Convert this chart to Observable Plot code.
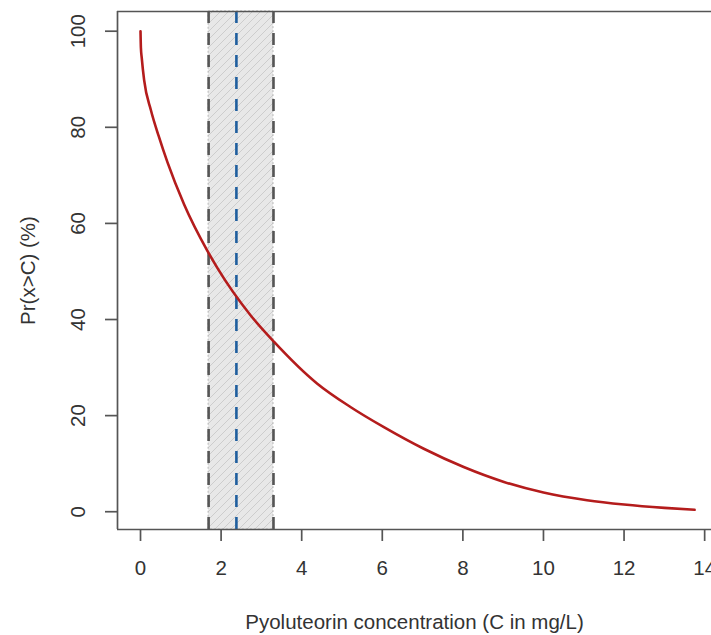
<!DOCTYPE html>
<html>
<head>
<meta charset="utf-8">
<script src="https://cdn.jsdelivr.net/npm/d3@7"></script>
<script src="https://cdn.jsdelivr.net/npm/@observablehq/plot@0.6"></script>
<style>
  html, body { margin: 0; padding: 0; background: #fff; }
  #chart svg { display: block; }
</style>
</head>
<body>
<div id="chart"></div>
<script>
// Survival curve: Pr(x > C) in %
const concentration = [0, 0.01, 0.03, 0.09, 0.26, 0.45, 0.67, 1.08, 1.66, 1.91, 2.73, 3.31, 4.38, 5.21, 6.04, 7.03, 8.02, 9.02, 10.0, 11.08, 12.0, 13.0, 13.75];
const probability   = [100, 96.5, 94.5, 89.8, 83.5, 78.2, 72.7, 64.0, 54.3, 50.7, 40.9, 35.4, 26.7, 21.8, 17.6, 13.1, 9.3, 6.2, 4.0, 2.4, 1.5, 0.8, 0.4];

// Interval band and central estimate
const bandLow = 1.69;
const bandHigh = 3.30;
const centralValue = 2.38;

const xTicks = [0, 2, 4, 6, 8, 10, 12, 14];
const yTicks = [0, 20, 40, 60, 80, 100];

const xTitle = "Pyoluteorin concentration (C in mg/L)";
const yTitle = "Pr(x>C) (%)";

const curve = concentration.map((c, i) => ({c, p: probability[i]}));
const xDomain = [-0.571, 14.17];
const yDomain = [-3.7, 104.1];
const font = "'Liberation Sans', Arial, sans-serif";
const fs = 20.5;

const svg = Plot.plot({
  width: 711,
  height: 635,
  marginLeft: 117,
  marginRight: 0,
  marginTop: 11,
  marginBottom: 106,
  style: {fontFamily: font, color: "#333", background: "#fff", overflow: "visible"},
  x: {domain: xDomain, axis: null},
  y: {domain: yDomain, axis: null},
  marks: [
    // shaded interval
    Plot.rect([{lo: bandLow, hi: bandHigh}], {
      x1: "lo", x2: "hi", y1: yDomain[0], y2: yDomain[1],
      fill: "url(#hatch)", stroke: "#b8b8b8", strokeWidth: 1, strokeDasharray: "2,2"
    }),
    Plot.ruleX([bandLow, bandHigh], {stroke: "#555", strokeWidth: 2.6, strokeDasharray: "12,10", y1: yDomain[0], y2: yDomain[1]}),
    Plot.ruleX([centralValue], {stroke: "#1f5e9e", strokeWidth: 2.6, strokeDasharray: "12,10", y1: yDomain[0], y2: yDomain[1]}),
    // curve
    Plot.line(curve, {x: "c", y: "p", stroke: "#b41c1c", strokeWidth: 2.6, curve: "monotone-x"}),
    // box (left, top, bottom; right edge is off-canvas)
    Plot.ruleX([xDomain[0]], {stroke: "#555", strokeWidth: 1.7}),
    Plot.ruleY([yDomain[0], yDomain[1]], {stroke: "#555", strokeWidth: 1.7}),
    // x axis
    Plot.axisX({ticks: xTicks, tickSize: 12, tickPadding: 19, fontSize: fs, stroke: "#555", fill: "#333", strokeWidth: 1.7, label: null, tickFormat: d => String(d)}),
    // y axis ticks
    Plot.axisY({ticks: yTicks, tickSize: 12, tickFormat: () => "", stroke: "#555", strokeWidth: 1.7, label: null}),
    // y tick labels (rotated like base R)
    Plot.text(yTicks, {x: xDomain[0], y: d => d, text: d => String(d), rotate: -90, dx: -39,
      textAnchor: "middle", lineAnchor: "middle", fontSize: fs, fill: "#333"}),
    // axis titles
    Plot.text([xTitle], {frameAnchor: "bottom", dy: 93, lineAnchor: "middle", fontSize: fs, fill: "#333"}),
    Plot.text([yTitle], {frameAnchor: "left", dx: -89, rotate: -90, textAnchor: "middle", lineAnchor: "middle", fontSize: fs, fill: "#333"})
  ]
});

// hatch pattern definition for the band
const defs = d3.select(svg).insert("defs", ":first-child");
const pat = defs.append("pattern")
  .attr("id", "hatch")
  .attr("patternUnits", "userSpaceOnUse")
  .attr("width", 8).attr("height", 8);
pat.append("rect").attr("width", 8).attr("height", 8).attr("fill", "#e8e8e8");
pat.append("path")
  .attr("d", "M-2,2 L2,-2 M0,8 L8,0 M6,10 L10,6")
  .attr("stroke", "#cdcdcd").attr("stroke-width", 1);

document.getElementById("chart").appendChild(svg);
</script>
</body>
</html>
